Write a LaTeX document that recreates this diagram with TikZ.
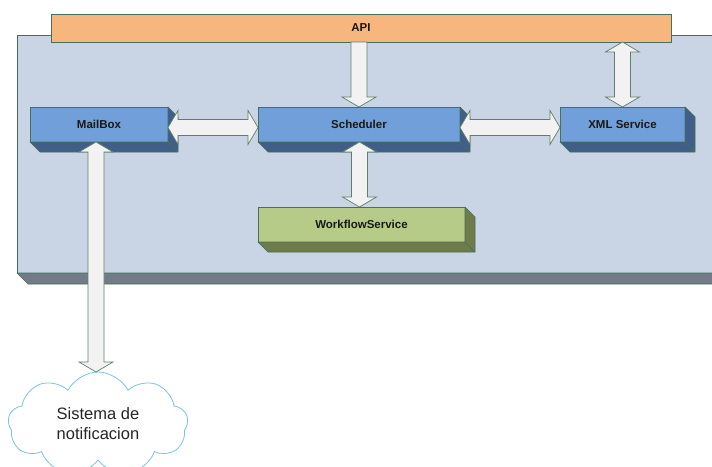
\documentclass[tikz,border=0pt]{standalone}
\usepackage{fontspec}
\setmainfont{Liberation Sans}
\usetikzlibrary{calc,shapes.symbols}

\definecolor{panelfill}{HTML}{C9D5E4}
\definecolor{paneldepth}{HTML}{737B87}
\definecolor{edge}{HTML}{45705A}
\definecolor{apifill}{HTML}{F7B67E}
\definecolor{bluefront}{HTML}{719FD9}
\definecolor{bluedepth}{HTML}{405E88}
\definecolor{greenfront}{HTML}{B7CB88}
\definecolor{greendepth}{HTML}{6E7C4C}
\definecolor{arrowfill}{HTML}{F2F2F2}
\definecolor{arrowedge}{HTML}{5F7F6A}
\definecolor{cloudedge}{HTML}{7FC3D8}

% depth faces (bottom and right) of an extruded box
\newcommand\extrude[3]{%
  \filldraw[fill=#2, draw=edge, line width=0.7pt, line join=round]
    (#1.south west) -- ++(#3,-#3) -- ($(#1.south east)+(#3,-#3)$)
    -- ($(#1.north east)+(#3,-#3)$) -- (#1.north east) -- (#1.south east) -- cycle
    (#1.south east) -- ++(#3,-#3);}

% wide outlined arrow with heads at both ends
\newcommand\fatdbl[2]{%
  \filldraw[fatarrow] let \p1=(#1), \p2=(#2),
    \n1={atan2(\y2-\y1,\x2-\x1)}, \n2={veclen(\x2-\x1,\y2-\y1)} in
    [shift={(\p1)}, rotate=\n1]
    (0,0) -- (10,17) -- (10,8) -- (\n2-10,8) -- (\n2-10,17) -- (\n2,0)
    -- (\n2-10,-17) -- (\n2-10,-8) -- (10,-8) -- (10,-17) -- cycle;}

% wide outlined arrow with one head at the second end
\newcommand\fatsgl[2]{%
  \filldraw[fatarrow] let \p1=(#1), \p2=(#2),
    \n1={atan2(\y2-\y1,\x2-\x1)}, \n2={veclen(\x2-\x1,\y2-\y1)} in
    [shift={(\p1)}, rotate=\n1]
    (0,8) -- (\n2-10,8) -- (\n2-10,17) -- (\n2,0)
    -- (\n2-10,-17) -- (\n2-10,-8) -- (0,-8) -- cycle;}

\tikzset{
  fatarrow/.style={fill=arrowfill, draw=arrowedge, line width=0.7pt, line join=miter},
  front/.style={draw=edge, line width=0.7pt, outer sep=0pt, inner sep=0pt,
    minimum height=35pt, font=\bfseries\fontsize{11.5}{13}\selectfont, text=black!90},
  bluebox/.style={front, fill=bluefront},
  greenbox/.style={front, fill=greenfront},
}

\begin{document}
\begin{tikzpicture}[x=1pt, y=1pt]
  \useasboundingbox (0,0) rectangle (712,-466);
  \clip (0,0) rectangle (712,-466);

  % container panel
  \node[draw=edge, fill=panelfill, line width=0.7pt, outer sep=0pt, inner sep=0pt,
        minimum width=703pt, minimum height=238pt] (panel) at (368.5,-154) {};
  \extrude{panel}{paneldepth}{11}

  % API bar
  \node[front, fill=apifill, minimum width=620pt, minimum height=28pt] (api) at (361,-28) {API};

  % components
  \node[bluebox, minimum width=138pt] (mailbox) at (99,-124.5) {MailBox};
  \extrude{mailbox}{bluedepth}{10}
  \node[bluebox, minimum width=202pt] (scheduler) at (359,-124.5) {Scheduler};
  \extrude{scheduler}{bluedepth}{10}
  \node[bluebox, minimum width=125pt] (xml) at (622.5,-124.5) {XML Service};
  \extrude{xml}{bluedepth}{10}
  \node[greenbox, minimum width=207pt] (workflow) at (361.5,-224.5) {WorkflowService};
  \extrude{workflow}{greendepth}{10}

  % notification cloud
  \node[cloud, cloud puffs=9, cloud puff arc=125, aspect=1.8, draw=cloudedge, fill=white,
        line width=0.8pt, minimum width=180pt, minimum height=104pt, inner sep=0pt,
        align=center, font=\fontsize{16.5}{20}\selectfont, text=black!85]
        (notif) at (98,-424) {Sistema de\\notificacion};

  % connectors
  \fatdbl{$(mailbox.east)+(0,-3)$}{$(scheduler.west)+(0,-3)$}
  \fatdbl{$(scheduler.east)+(0,-3)$}{$(xml.west)+(0,-3)$}
  \fatsgl{api.south -| scheduler.north}{scheduler.north}
  \fatdbl{api.south -| xml.north}{xml.north}
  \fatdbl{$(scheduler.south)+(0.5,0)$}{$(scheduler.south |- workflow.north)+(0.5,0)$}
  \fatdbl{$(mailbox.south)+(-3,0)$}{$(mailbox.south)+(-3,-230)$}
\end{tikzpicture}
\end{document}
